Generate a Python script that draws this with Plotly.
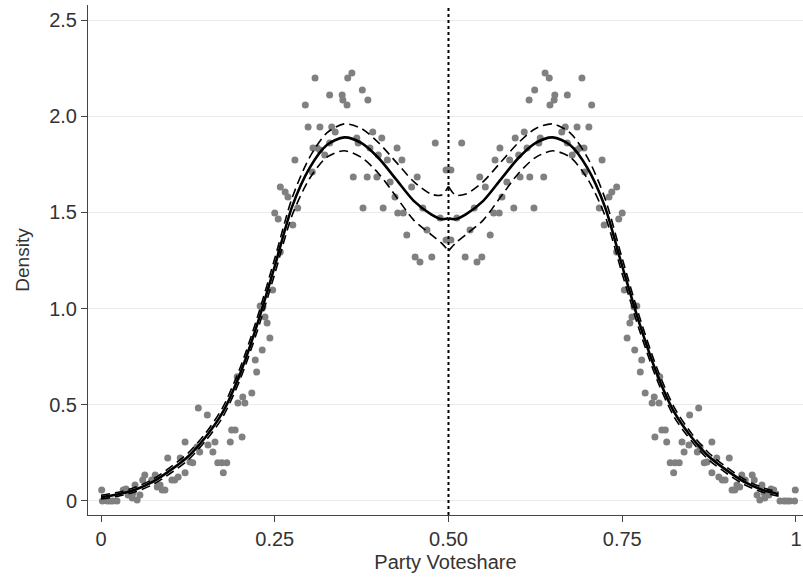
import plotly.graph_objects as go

# ---- binned density points (gray dots) ----
bin_x_left = [0.001, 0.002, 0.009, 0.013, 0.017, 0.023, 0.032, 0.036, 0.039, 0.045, 0.046, 0.049, 0.052, 0.056,
              0.060, 0.063, 0.073, 0.078, 0.081, 0.085, 0.088, 0.092, 0.096, 0.102, 0.106, 0.111, 0.114, 0.121,
              0.121, 0.128, 0.132, 0.138, 0.140, 0.142, 0.153, 0.154, 0.161, 0.164, 0.168, 0.174, 0.176, 0.181,
              0.186, 0.188, 0.193, 0.196, 0.197, 0.203, 0.204, 0.207, 0.217, 0.222, 0.224, 0.229, 0.232, 0.233,
              0.236, 0.239, 0.243, 0.247, 0.250, 0.255, 0.258, 0.258, 0.265, 0.269, 0.276, 0.279, 0.283, 0.294,
              0.298, 0.304, 0.305, 0.308, 0.311, 0.315, 0.315, 0.322, 0.329, 0.329, 0.332, 0.337, 0.347, 0.348,
              0.354, 0.355, 0.361, 0.363, 0.368, 0.370, 0.376, 0.377, 0.383, 0.384, 0.387, 0.391, 0.397, 0.399,
              0.404, 0.406, 0.412, 0.416, 0.423, 0.426, 0.427, 0.435, 0.433, 0.440, 0.447, 0.452, 0.455, 0.459,
              0.463, 0.469, 0.476, 0.481, 0.488, 0.4965, 0.4965]
bin_y_left = [0.057, 0.0, 0.0, 0.0, 0.0, 0.0, 0.057, 0.062, 0.031, 0.016, 0.042, 0.083, 0.005, 0.031,
              0.109, 0.135, 0.109, 0.135, 0.073, 0.083, 0.057, 0.057, 0.223, 0.109, 0.109, 0.125, 0.223, 0.146,
              0.307, 0.203, 0.198, 0.281, 0.483, 0.255, 0.447, 0.291, 0.255, 0.307, 0.198, 0.198, 0.146, 0.198,
              0.307, 0.369, 0.369, 0.645, 0.509, 0.333, 0.541, 0.509, 0.561, 0.733, 0.670, 1.013, 0.785, 1.008,
              0.956, 0.925, 0.847, 1.097, 1.497, 1.466, 1.294, 1.632, 1.606, 1.580, 1.435, 1.772, 1.523, 2.058,
              1.944, 1.710, 1.835, 2.199, 1.835, 1.824, 1.944, 1.798, 1.861, 2.110, 1.944, 1.918, 2.110, 2.084,
              2.058, 2.199, 2.225, 1.684, 1.887, 1.861, 2.136, 1.523, 1.684, 2.084, 1.835, 1.918, 1.684, 1.798,
              1.887, 1.523, 1.772, 1.658, 1.580, 1.835, 1.497, 1.497, 1.772, 1.383, 1.632, 1.268, 1.684, 1.242,
              1.523, 1.409, 1.268, 1.861, 1.471, 1.357, 1.720]

bin_x_right = [0.5035, 0.5035, 0.512, 0.519, 0.524, 0.531, 0.537, 0.541, 0.545, 0.548, 0.553, 0.560, 0.567,
               0.565, 0.573, 0.574, 0.577, 0.584, 0.588, 0.594, 0.596, 0.601, 0.603, 0.609, 0.613, 0.616, 0.617,
               0.623, 0.624, 0.630, 0.632, 0.637, 0.639, 0.645, 0.646, 0.652, 0.653, 0.663, 0.668, 0.671, 0.671,
               0.678, 0.685, 0.685, 0.689, 0.692, 0.695, 0.696, 0.702, 0.706, 0.717, 0.721, 0.724, 0.731, 0.735,
               0.742, 0.742, 0.745, 0.750, 0.753, 0.757, 0.761, 0.764, 0.767, 0.768, 0.771, 0.776, 0.778, 0.783,
               0.793, 0.796, 0.797, 0.803, 0.804, 0.807, 0.812, 0.814, 0.819, 0.824, 0.826, 0.832, 0.836, 0.839,
               0.846, 0.847, 0.858, 0.860, 0.862, 0.868, 0.872, 0.879, 0.879, 0.886, 0.889, 0.894, 0.898, 0.904,
               0.908, 0.912, 0.915, 0.919, 0.922, 0.927, 0.937, 0.940, 0.944, 0.948, 0.951, 0.954, 0.955, 0.961,
               0.964, 0.968, 0.977, 0.983, 0.987, 0.991, 0.998, 0.999]
bin_y_right = [1.720, 1.357, 1.471, 1.861, 1.268, 1.409, 1.523, 1.242, 1.684, 1.268, 1.632, 1.383, 1.772,
               1.497, 1.497, 1.835, 1.580, 1.658, 1.772, 1.523, 1.887, 1.798, 1.684, 1.918, 1.835, 2.084, 1.684,
               1.523, 2.136, 1.861, 1.887, 1.684, 2.225, 2.199, 2.058, 2.084, 2.110, 1.918, 1.944, 1.861, 2.110,
               1.798, 1.944, 1.824, 1.835, 2.199, 1.835, 1.710, 1.944, 2.058, 1.523, 1.772, 1.435, 1.580, 1.606,
               1.632, 1.294, 1.466, 1.497, 1.097, 0.847, 0.925, 0.956, 1.008, 0.785, 1.013, 0.670, 0.733, 0.561,
               0.509, 0.541, 0.333, 0.509, 0.645, 0.369, 0.369, 0.307, 0.198, 0.146, 0.198, 0.198, 0.307, 0.255,
               0.291, 0.447, 0.255, 0.483, 0.281, 0.198, 0.203, 0.307, 0.146, 0.223, 0.125, 0.109, 0.109, 0.223,
               0.057, 0.057, 0.083, 0.073, 0.135, 0.109, 0.135, 0.109, 0.031, 0.005, 0.083, 0.042, 0.016, 0.031,
               0.062, 0.057, 0.0, 0.0, 0.0, 0.0, 0.0, 0.057]

# ---- fitted density with confidence band (left / right of cutoff) ----
fit_x_left = [0.0, 0.025, 0.05, 0.075, 0.1, 0.125, 0.15, 0.175, 0.2, 0.225, 0.25, 0.275, 0.3, 0.325,
              0.35, 0.375, 0.4, 0.425, 0.45, 0.475, 0.49, 0.5]
fit_y_left = [0.02, 0.035, 0.06, 0.10, 0.16, 0.23, 0.33, 0.46, 0.66, 0.92, 1.22, 1.53, 1.73, 1.85,
              1.89, 1.86, 1.78, 1.67, 1.56, 1.49, 1.465, 1.47]
fit_hi_left = [0.03, 0.045, 0.072, 0.114, 0.176, 0.248, 0.35, 0.485, 0.69, 0.955, 1.26, 1.575, 1.785, 1.913,
               1.96, 1.935, 1.86, 1.76, 1.66, 1.595, 1.59, 1.635]
fit_lo_left = [0.01, 0.025, 0.048, 0.086, 0.144, 0.212, 0.31, 0.435, 0.63, 0.885, 1.18, 1.485, 1.675, 1.787,
               1.82, 1.785, 1.70, 1.58, 1.46, 1.385, 1.34, 1.30]

fit_x_right = [0.5, 0.51, 0.525, 0.55, 0.575, 0.6, 0.625, 0.65, 0.675, 0.7, 0.725, 0.75, 0.775, 0.8,
               0.825, 0.85, 0.875, 0.9, 0.925, 0.95, 0.975]
fit_y_right = [1.47, 1.465, 1.49, 1.56, 1.67, 1.78, 1.86, 1.89, 1.85, 1.73, 1.53, 1.22, 0.92, 0.66,
               0.46, 0.33, 0.23, 0.16, 0.10, 0.06, 0.035]
fit_hi_right = [1.635, 1.59, 1.595, 1.66, 1.76, 1.86, 1.935, 1.96, 1.913, 1.785, 1.575, 1.26, 0.955, 0.69,
                0.485, 0.35, 0.248, 0.176, 0.114, 0.072, 0.045]
fit_lo_right = [1.30, 1.34, 1.385, 1.46, 1.58, 1.70, 1.785, 1.82, 1.787, 1.675, 1.485, 1.18, 0.885, 0.63,
                0.435, 0.31, 0.212, 0.144, 0.086, 0.048, 0.025]

cutoff = 0.5
x_ticks = [0, 0.25, 0.5, 0.75, 1]
x_tick_text = ["0", "0.25", "0.50", "0.75", "1"]
y_ticks = [0, 0.5, 1.0, 1.5, 2.0, 2.5]
y_tick_text = ["0", "0.5", "1.0", "1.5", "2.0", "2.5"]

FONT = "Liberation Sans, Arial, Helvetica, sans-serif"
TEXT_COLOR = "#333333"
fig = go.Figure()

dot_style = dict(mode="markers", marker=dict(color="#808080", size=7, line=dict(width=0)),
                 showlegend=False, hoverinfo="skip")
fig.add_trace(go.Scatter(x=bin_x_left, y=bin_y_left, **dot_style))
fig.add_trace(go.Scatter(x=bin_x_right, y=bin_y_right, **dot_style))

for xs, ys, hi, lo in [(fit_x_left, fit_y_left, fit_hi_left, fit_lo_left),
                       (fit_x_right, fit_y_right, fit_hi_right, fit_lo_right)]:
    for band in (hi, lo):
        fig.add_trace(go.Scatter(x=xs, y=band, mode="lines",
                                 line=dict(color="black", width=1.6, dash="9px,5px", shape="spline", smoothing=0.8),
                                 showlegend=False, hoverinfo="skip"))
    fig.add_trace(go.Scatter(x=xs, y=ys, mode="lines",
                             line=dict(color="black", width=2.6, shape="spline", smoothing=0.8),
                             showlegend=False, hoverinfo="skip"))

fig.add_shape(type="line", xref="x", yref="paper", x0=cutoff, x1=cutoff, y0=0, y1=1,
              line=dict(color="black", width=2, dash="3px,3px"))

axis_common = dict(showline=True, linecolor="#444444", linewidth=1, ticks="outside", ticklen=6,
                   tickcolor="#444444", tickwidth=1, zeroline=False,
                   tickfont=dict(family=FONT, size=20, color=TEXT_COLOR))

fig.update_layout(
    width=803, height=578,
    margin=dict(l=88, r=0, t=5, b=63),
    paper_bgcolor="white", plot_bgcolor="white",
    font=dict(family=FONT, size=19, color=TEXT_COLOR),
    xaxis=dict(range=[-0.0187, 1.0101], tickvals=x_ticks, ticktext=x_tick_text, showgrid=False,
               title=dict(text="Party Voteshare", standoff=5,
                          font=dict(family=FONT, size=20, color=TEXT_COLOR)), **axis_common),
    yaxis=dict(range=[-0.073, 2.578], tickvals=y_ticks, ticktext=y_tick_text, showgrid=True,
               gridcolor="#ebebeb", gridwidth=1.2,
               title=dict(text="Density", standoff=14,
                          font=dict(family=FONT, size=19, color=TEXT_COLOR)), **axis_common),
)

fig.write_html("out.html")
